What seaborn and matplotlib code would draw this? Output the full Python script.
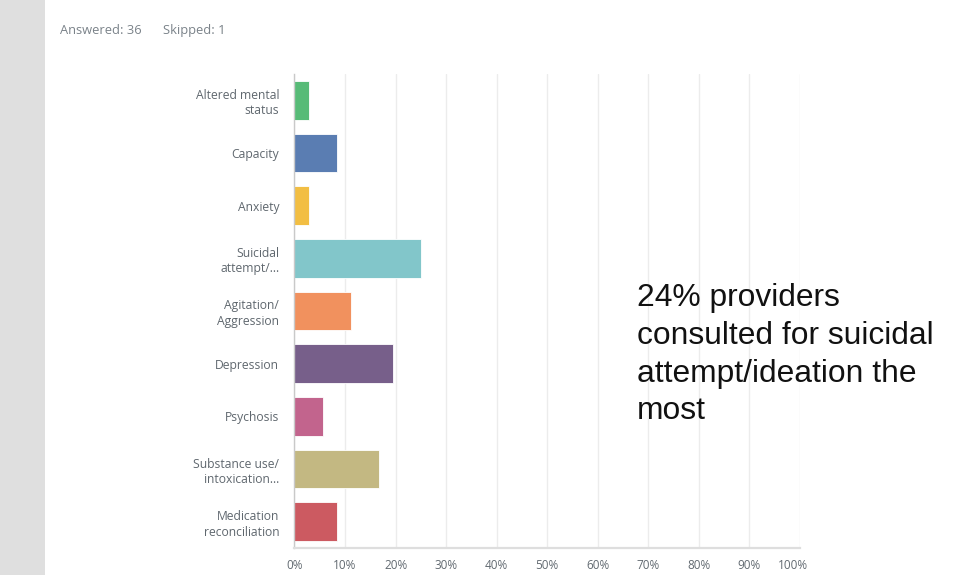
import matplotlib
matplotlib.use("Agg")
import matplotlib.pyplot as plt
import matplotlib.transforms as mtransforms
import seaborn as sns
import pandas as pd
from matplotlib.patches import Rectangle

# Survey responses (share of respondents, %)
categories = [
    "Altered mental\nstatus",
    "Capacity",
    "Anxiety",
    "Suicidal\nattempt/...",
    "Agitation/\nAggression",
    "Depression",
    "Psychosis",
    "Substance use/\nintoxication...",
    "Medication\nreconciliation",
]
percentages = [2.78, 8.33, 2.78, 25.0, 11.11, 19.44, 5.56, 16.67, 8.33]
bar_colors = ["#57bb77", "#5a7db2", "#f2be43", "#82c6ca", "#f1915e",
              "#775f8a", "#c2648d", "#c3b882", "#cc5a61"]
x_ticks = list(range(0, 101, 10))
x_tick_labels = [f"{t}%" for t in x_ticks]

answered, skipped = 36, 1
note = "24% providers\nconsulted for suicidal\nattempt/ideation the\nmost"

sns.set_style("white")
plt.rcParams["font.family"] = ["Open Sans", "DejaVu Sans"]

df = pd.DataFrame({"category": categories, "pct": percentages})

fig = plt.figure(figsize=(9.62, 5.75), dpi=100)
fig.patch.set_facecolor("white")

# textured slide margin on the left
fig.add_artist(Rectangle((0, 0), 45 / 962, 1, transform=fig.transFigure,
                         facecolor="#dfdfdf", edgecolor="none", zorder=0))

ax = fig.add_axes([294.5 / 962, 27 / 575, 505.5 / 962, 474 / 575])
sns.barplot(data=df, x="pct", y="category", hue="category", palette=bar_colors,
            orient="h", width=0.74, saturation=1, legend=False, ax=ax,
            edgecolor="white", linewidth=0.6)

ax.set_xlim(0, 100)
ax.set_ylim(8.5, -0.5)
ax.set_xticks(x_ticks)
ax.set_xticklabels(x_tick_labels)
ax.set_xlabel("")
ax.set_ylabel("")
ax.xaxis.grid(True, color="#ececec", linewidth=1)
ax.set_axisbelow(True)
ax.tick_params(axis="x", length=0, pad=8, labelsize=8.5, labelcolor="#626a71")
ax.tick_params(axis="y", length=0, pad=11, labelsize=8.7, labelcolor="#5f676e")
for lbl in ax.get_yticklabels():
    lbl.set_linespacing(1.25)
    lbl.set_horizontalalignment("right")

# the last tick label sits a little inside the right edge
last = ax.get_xticklabels()[-1]
last.set_transform(last.get_transform() +
                   mtransforms.ScaledTranslation(-7 / 100, 0, fig.dpi_scale_trans))

for side in ("top", "right"):
    ax.spines[side].set_visible(False)
ax.spines["left"].set_color("#c9c9c9")
ax.spines["left"].set_linewidth(1)
ax.spines["bottom"].set_color("#dedede")
ax.spines["bottom"].set_linewidth(1.6)

fig.text(60 / 962, 1 - 30.5 / 575, f"Answered: {answered}", ha="left", va="center",
         fontsize=9.3, color="#7a8289")
fig.text(163 / 962, 1 - 30.5 / 575, f"Skipped: {skipped}", ha="left", va="center",
         fontsize=9.3, color="#7a8289")

fig.text(637 / 962, 1 - 283 / 575, note, ha="left", va="top",
         fontsize=22.9, color="#111111", family=["Liberation Sans", "DejaVu Sans"],
         linespacing=1.34)

fig.savefig("out.png", dpi=100, facecolor="white")
